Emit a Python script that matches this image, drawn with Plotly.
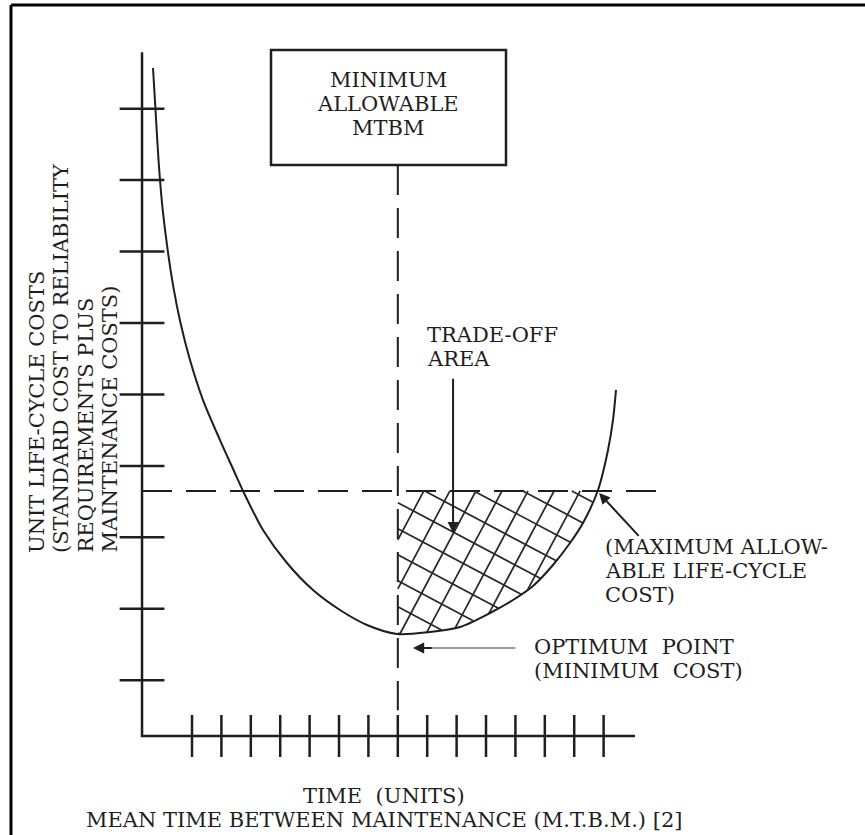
import numpy as np
import plotly.graph_objects as go

# ---------------- data ----------------
time_ticks = list(range(1, 16))          # tick marks on the MTBM (time) axis
cost_ticks = list(range(1, 10))          # tick marks on the cost axis

curve_time = [-0.327, -0.241, -0.139, -0.020, 0.150, 0.354, 0.609, 0.932, 1.374, 1.952,
              2.412, 2.769, 3.415, 4.231, 5.116, 6.034, 6.952, 7.973,
              9.095, 10.116, 11.136, 11.918, 12.599, 13.279, 13.857, 14.299, 14.810,
              15.150, 15.320, 15.422]
curve_cost = [9.569, 8.981, 8.282, 7.679, 7.091, 6.531, 6.000, 5.482, 4.922, 4.362,
              3.943, 3.621, 3.103, 2.641, 2.263, 1.983, 1.773, 1.647,
              1.675, 1.745, 1.941, 2.123, 2.319, 2.613, 2.921, 3.201, 3.663,
              4.223, 4.643, 5.063]

min_allowable_mtbm = 8.0        # time units
max_allowable_cost = 3.65       # cost units
axis_origin_time = -0.70
axis_origin_cost = 0.22
axis_time_end = 16.07
axis_cost_end = 9.79
mtbm_line_top = 8.21            # top of the MTBM dashed line (box bottom)
mtbm_line_bottom = 0.58
cost_line_end = 16.99

box_lines = ["MINIMUM", "ALLOWABLE", "MTBM"]
y_title_lines = ["UNIT LIFE-CYCLE COSTS", "(STANDARD COST TO RELIABILITY",
                 "REQUIREMENTS PLUS", "MAINTENANCE COSTS)"]
x_title_lines = ["TIME  (UNITS)", "MEAN TIME BETWEEN MAINTENANCE (M.T.B.M.) [2]"]
tradeoff_lines = ["TRADE-OFF", "AREA"]
maxcost_lines = ["(MAXIMUM ALLOW-", "ABLE LIFE-CYCLE", "COST)"]
optimum_lines = ["OPTIMUM  POINT", "(MINIMUM  COST)"]

# ---------------- layout constants ----------------
W, H = 865, 835
XR = [-5.531, 23.891]
YR = [-1.166, 10.521]
SX = W / (XR[1] - XR[0])
SY = H / (YR[1] - YR[0])
INK = "#1e1e1e"
FONT = dict(family="DejaVu Serif", size=21, color=INK)
LINE_GAP = 24


def px(xp):
    return xp / W


def py(yp):
    return 1 - yp / H


fig = go.Figure()

# axes
fig.add_trace(go.Scatter(x=[axis_origin_time, axis_origin_time, axis_time_end],
                         y=[axis_cost_end, axis_origin_cost, axis_origin_cost],
                         mode="lines", line=dict(color=INK, width=2.5), hoverinfo="skip"))
fig.add_trace(go.Scatter(x=time_ticks, y=[axis_origin_cost] * len(time_ticks), mode="markers",
                         marker=dict(symbol="line-ns", size=30, line=dict(color=INK, width=2.5)),
                         hoverinfo="skip"))
fig.add_trace(go.Scatter(x=[axis_origin_time] * len(cost_ticks), y=cost_ticks, mode="markers",
                         marker=dict(symbol="line-ew", size=32, line=dict(color=INK, width=2.5)),
                         hoverinfo="skip"))

# dashed limit lines
fig.add_trace(go.Scatter(x=[min_allowable_mtbm, min_allowable_mtbm], y=[mtbm_line_top, mtbm_line_bottom],
                         mode="lines", line=dict(color=INK, width=2, dash="30px,13px"), hoverinfo="skip"))
fig.add_trace(go.Scatter(x=[axis_origin_time, cost_line_end], y=[max_allowable_cost, max_allowable_cost],
                         mode="lines", line=dict(color=INK, width=2, dash="30px,14px"), hoverinfo="skip"))

# cross-hatched trade-off area
ct = np.array(curve_time)
cc = np.array(curve_cost)


def inside(x, y):
    return (x >= min_allowable_mtbm) & (y <= max_allowable_cost) & (y >= np.interp(x, ct, cc))


HATCH_GAP = 23.0
corner = np.array([min_allowable_mtbm * SX, max_allowable_cost * SY])
hx, hy = [], []
t = np.linspace(-450, 450, 9001)
for ang, phase in [(-28.0, 0.55), (62.0, 0.0)]:
    a = np.radians(ang)
    d = np.array([np.cos(a), np.sin(a)])
    n = np.array([-np.sin(a), np.cos(a)])
    for k in range(-30, 31):
        base = corner + (k + phase) * HATCH_GAP * n
        u = base[0] + t * d[0]
        v = base[1] + t * d[1]
        x = u / SX
        y = v / SY
        m = inside(x, y)
        if m.sum() > 3:
            idx = np.where(m)[0]
            hx += [x[idx[0]], x[idx[-1]], None]
            hy += [y[idx[0]], y[idx[-1]], None]
fig.add_trace(go.Scatter(x=hx, y=hy, mode="lines", line=dict(color="#262626", width=1.7),
                         hoverinfo="skip"))

# cost curve
fig.add_trace(go.Scatter(x=curve_time, y=curve_cost, mode="lines",
                         line=dict(color=INK, width=2, shape="spline", smoothing=0.8),
                         hoverinfo="skip"))

# arrows
x_cross = float(np.interp(max_allowable_cost, cc[17:], ct[17:]))
fig.add_annotation(x=9.88, y=3.06, ax=9.88, ay=5.24, xref="x", yref="y", axref="x", ayref="y",
                   text="", showarrow=True, arrowhead=2, arrowsize=1.1, arrowwidth=2, arrowcolor=INK)
fig.add_annotation(x=x_cross + 0.05, y=max_allowable_cost - 0.03, ax=16.24, ay=3.0,
                   xref="x", yref="y", axref="x", ayref="y",
                   text="", showarrow=True, arrowhead=2, arrowsize=1.1, arrowwidth=2, arrowcolor=INK)
fig.add_annotation(x=8.52, y=1.45, ax=12.05, ay=1.45, xref="x", yref="y", axref="x", ayref="y",
                   text="", showarrow=True, arrowhead=2, arrowsize=1.1, arrowwidth=2, arrowcolor="#9a9a9a")
fig.add_annotation(x=8.52, y=1.45, ax=9.2, ay=1.45, xref="x", yref="y", axref="x", ayref="y",
                   text="", showarrow=True, arrowhead=2, arrowsize=1.1, arrowwidth=2, arrowcolor=INK)

# frame and label box
fig.add_shape(type="line", xref="paper", yref="paper", x0=px(11), x1=px(865), y0=py(5), y1=py(5),
              line=dict(color="black", width=3))
fig.add_shape(type="line", xref="paper", yref="paper", x0=px(11), x1=px(11), y0=py(5), y1=py(835),
              line=dict(color="black", width=3))
fig.add_shape(type="rect", xref="paper", yref="paper", x0=px(271), x1=px(506), y0=py(50), y1=py(165),
              line=dict(color=INK, width=2.5), fillcolor="rgba(0,0,0,0)")


def block(lines, xp, yp, xanchor="left"):
    for i, s in enumerate(lines):
        fig.add_annotation(text=s, x=px(xp), y=py(yp + i * LINE_GAP), xref="paper", yref="paper",
                           xanchor=xanchor, yanchor="middle", showarrow=False, font=FONT)


block(box_lines, 388, 80, "center")
block(tradeoff_lines, 425, 335)
block(maxcost_lines, 603, 547)
block(optimum_lines, 532, 647)
block(x_title_lines, 384, 796, "center")

for i, s in enumerate(y_title_lines):
    fig.add_annotation(text=s, x=px(37 + i * LINE_GAP), y=py(555), xref="paper", yref="paper",
                       xanchor="center", yanchor="bottom", textangle=-90, showarrow=False, font=FONT)

fig.update_layout(width=W, height=H, margin=dict(l=0, r=0, t=0, b=0),
                  paper_bgcolor="white", plot_bgcolor="white", showlegend=False, hovermode=False,
                  xaxis=dict(range=XR, visible=False, fixedrange=True),
                  yaxis=dict(range=YR, visible=False, fixedrange=True))

fig.write_html("out.html", config={"displayModeBar": False},
               post_script="document.body.style.margin='0px';")
